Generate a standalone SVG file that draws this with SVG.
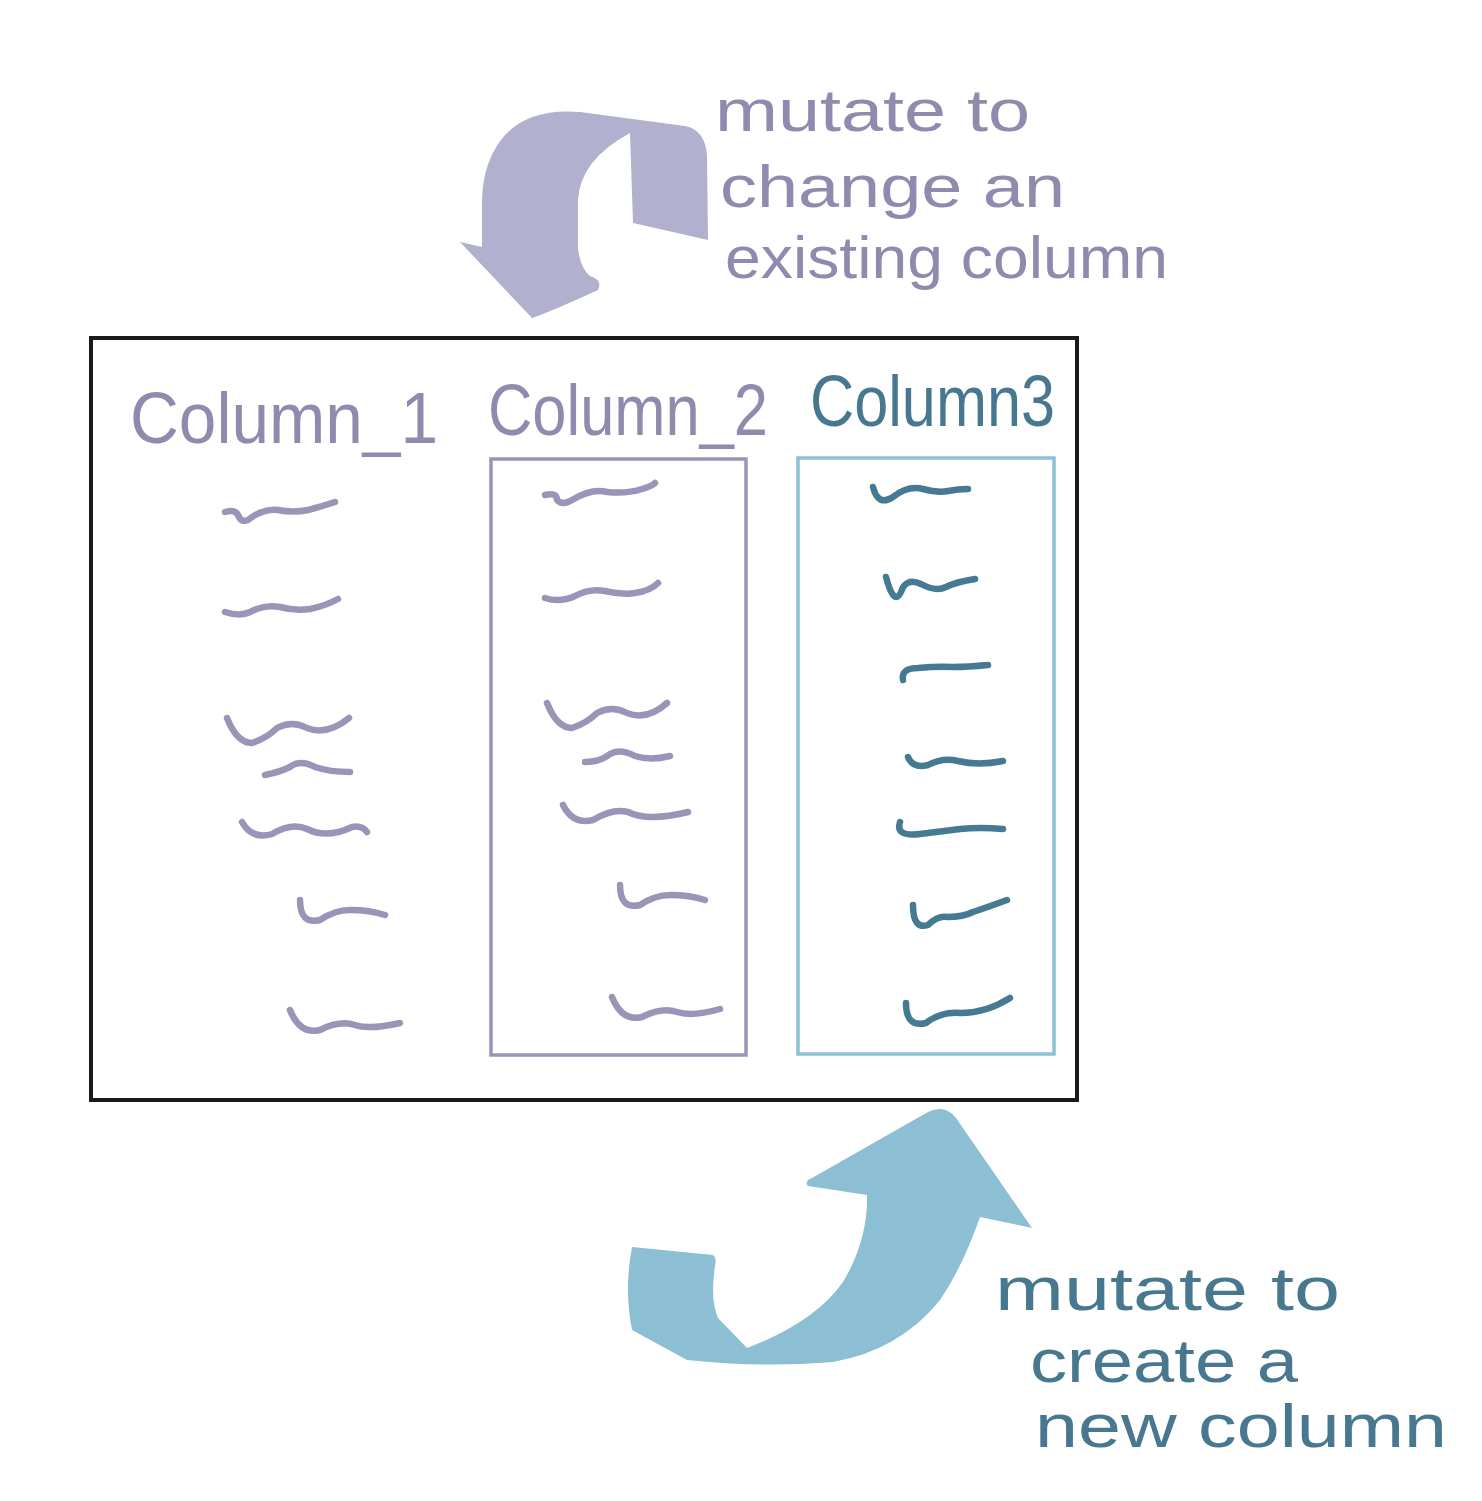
<svg xmlns="http://www.w3.org/2000/svg" width="1482" height="1501" viewBox="0 0 1482 1501">
<style>
.lbl{font-family:"Liberation Sans","DejaVu Sans",sans-serif;}
.pl{fill:#8f8bae;}
.bl{fill:#477890;}
.sq{fill:none;stroke-width:6.5;stroke-linecap:round;stroke-linejoin:round;}
.sp{stroke:#9995b8;}
.sb{stroke:#467a93;}
</style>
<rect width="1482" height="1501" fill="#ffffff"/>
<g id="frame">
<rect x="91" y="338" width="986" height="762" fill="none" stroke="#1a1a1a" stroke-width="4"/>
</g>
<g id="arrow-mutate-change">
<path d="M482,247 L460,242 L532,318 Q550,312 598,290 Q603,280 590,276 Q580,268 578,248 L578,200 Q580,160 630,133 L633,223 L708,240 L707,155 Q705,130 685,126 L580,112 Q530,108 505,135 Q483,160 482,200 Z" fill="#b1b0cf"/>
</g>
<g id="arrow-mutate-create">
<path d="M632,1247 L713,1255 Q717,1258 715,1266 Q710,1300 718,1318 L747,1348 Q815,1322 843,1282 Q868,1240 867,1195 L808,1186 Q804,1181 812,1178 L928,1112 Q945,1104 956,1118 L1032,1228 L980,1217 Q962,1268 940,1300 Q900,1350 833,1362 Q760,1368 687,1360 L632,1330 Q624,1290 632,1247 Z" fill="#8cbfd4"/>
</g>
<g id="label-top">
<text class="lbl pl" x="715" y="131" font-size="60" textLength="315" lengthAdjust="spacingAndGlyphs">mutate to</text>
<text class="lbl pl" x="720" y="207" font-size="60" textLength="345" lengthAdjust="spacingAndGlyphs">change an</text>
<text class="lbl pl" x="725" y="278" font-size="60" textLength="443" lengthAdjust="spacingAndGlyphs">existing column</text>
</g>
<g id="label-bottom">
<text class="lbl bl" x="995" y="1310" font-size="62" textLength="345" lengthAdjust="spacingAndGlyphs">mutate to</text>
<text class="lbl bl" x="1030" y="1382" font-size="62" textLength="268" lengthAdjust="spacingAndGlyphs">create a</text>
<text class="lbl bl" x="1035" y="1447" font-size="62" textLength="412" lengthAdjust="spacingAndGlyphs">new column</text>
</g>
<g id="column1">
<text class="lbl pl" x="130" y="443" font-size="72" textLength="308" lengthAdjust="spacingAndGlyphs">Column_1</text>
<path class="sq sp" d="M225,512 q10,-3 13,3 q3,8 10,5 q15,-12 30,-10 q15,3 30,0 q15,-4 27,-8"/>
<path class="sq sp" d="M225,612 q15,5 25,0 q15,-8 30,-5 q15,4 30,2 q15,-3 28,-10"/>
<path class="sq sp" d="M227,718 q10,25 25,25 q15,-5 25,-15 q15,-8 30,0 q20,8 42,-10"/>
<path class="sq sp" d="M265,775 q15,-3 25,-8 q10,-8 25,0 q15,5 35,5"/>
<path class="sq sp" d="M242,822 q10,18 30,12 q20,-12 35,-5 q20,10 45,-2 q10,-2 15,5"/>
<path class="sq sp" d="M300,900 q0,25 20,20 q15,-10 30,-10 q20,0 35,5"/>
<path class="sq sp" d="M290,1010 q10,25 30,20 q20,-10 35,-5 q15,5 45,-2"/>
</g>
<g id="column2">
<text class="lbl pl" x="488" y="435" font-size="72" textLength="280" lengthAdjust="spacingAndGlyphs">Column_2</text>
<rect x="491" y="459" width="255" height="596" fill="none" stroke="#9995b8" stroke-width="3.5"/>
<path class="sq sp" d="M545,495 q12,-3 12,5 q5,6 15,0 q20,-12 35,-8 q20,2 35,-3 q10,-3 13,-6"/>
<path class="sq sp" d="M545,598 q15,5 30,-2 q15,-8 30,-5 q20,4 30,2 q15,-2 23,-10"/>
<path class="sq sp" d="M547,703 q10,25 25,25 q15,-5 25,-15 q15,-8 30,0 q20,8 40,-10"/>
<path class="sq sp" d="M585,762 q15,0 25,-8 q10,-6 25,2 q15,5 35,0"/>
<path class="sq sp" d="M563,805 q10,20 30,15 q20,-12 35,-8 q20,10 60,0"/>
<path class="sq sp" d="M620,885 q0,25 20,20 q15,-10 30,-10 q20,0 35,5"/>
<path class="sq sp" d="M612,997 q10,25 30,20 q20,-10 35,-5 q15,5 43,-3"/>
</g>
<g id="column3">
<text class="lbl bl" x="810" y="426" font-size="72" textLength="245" lengthAdjust="spacingAndGlyphs">Column3</text>
<rect x="798" y="458" width="256" height="596" fill="none" stroke="#8cc0d5" stroke-width="3.5"/>
<path class="sq sb" d="M873,487 q5,20 20,10 q15,-12 30,-8 q15,4 25,2 q10,-2 20,-2"/>
<path class="sq sb" d="M886,577 q8,30 15,15 q5,-15 20,-8 q15,8 25,3 q10,-5 29,-8"/>
<path class="sq sb" d="M903,680 q-2,-12 15,-12 q20,-2 35,-1 q15,0 35,-2"/>
<path class="sq sb" d="M908,757 q5,12 20,8 q15,-8 30,-4 q20,5 45,0"/>
<path class="sq sb" d="M900,822 q-5,15 20,12 q25,-3 40,-5 q20,-2 43,0"/>
<path class="sq sb" d="M913,905 q0,25 15,20 q10,-10 20,-8 q15,0 25,-5 q15,-5 34,-12"/>
<path class="sq sb" d="M906,1003 q0,25 20,20 q15,-12 35,-10 q25,0 49,-15"/>
</g>
</svg>
